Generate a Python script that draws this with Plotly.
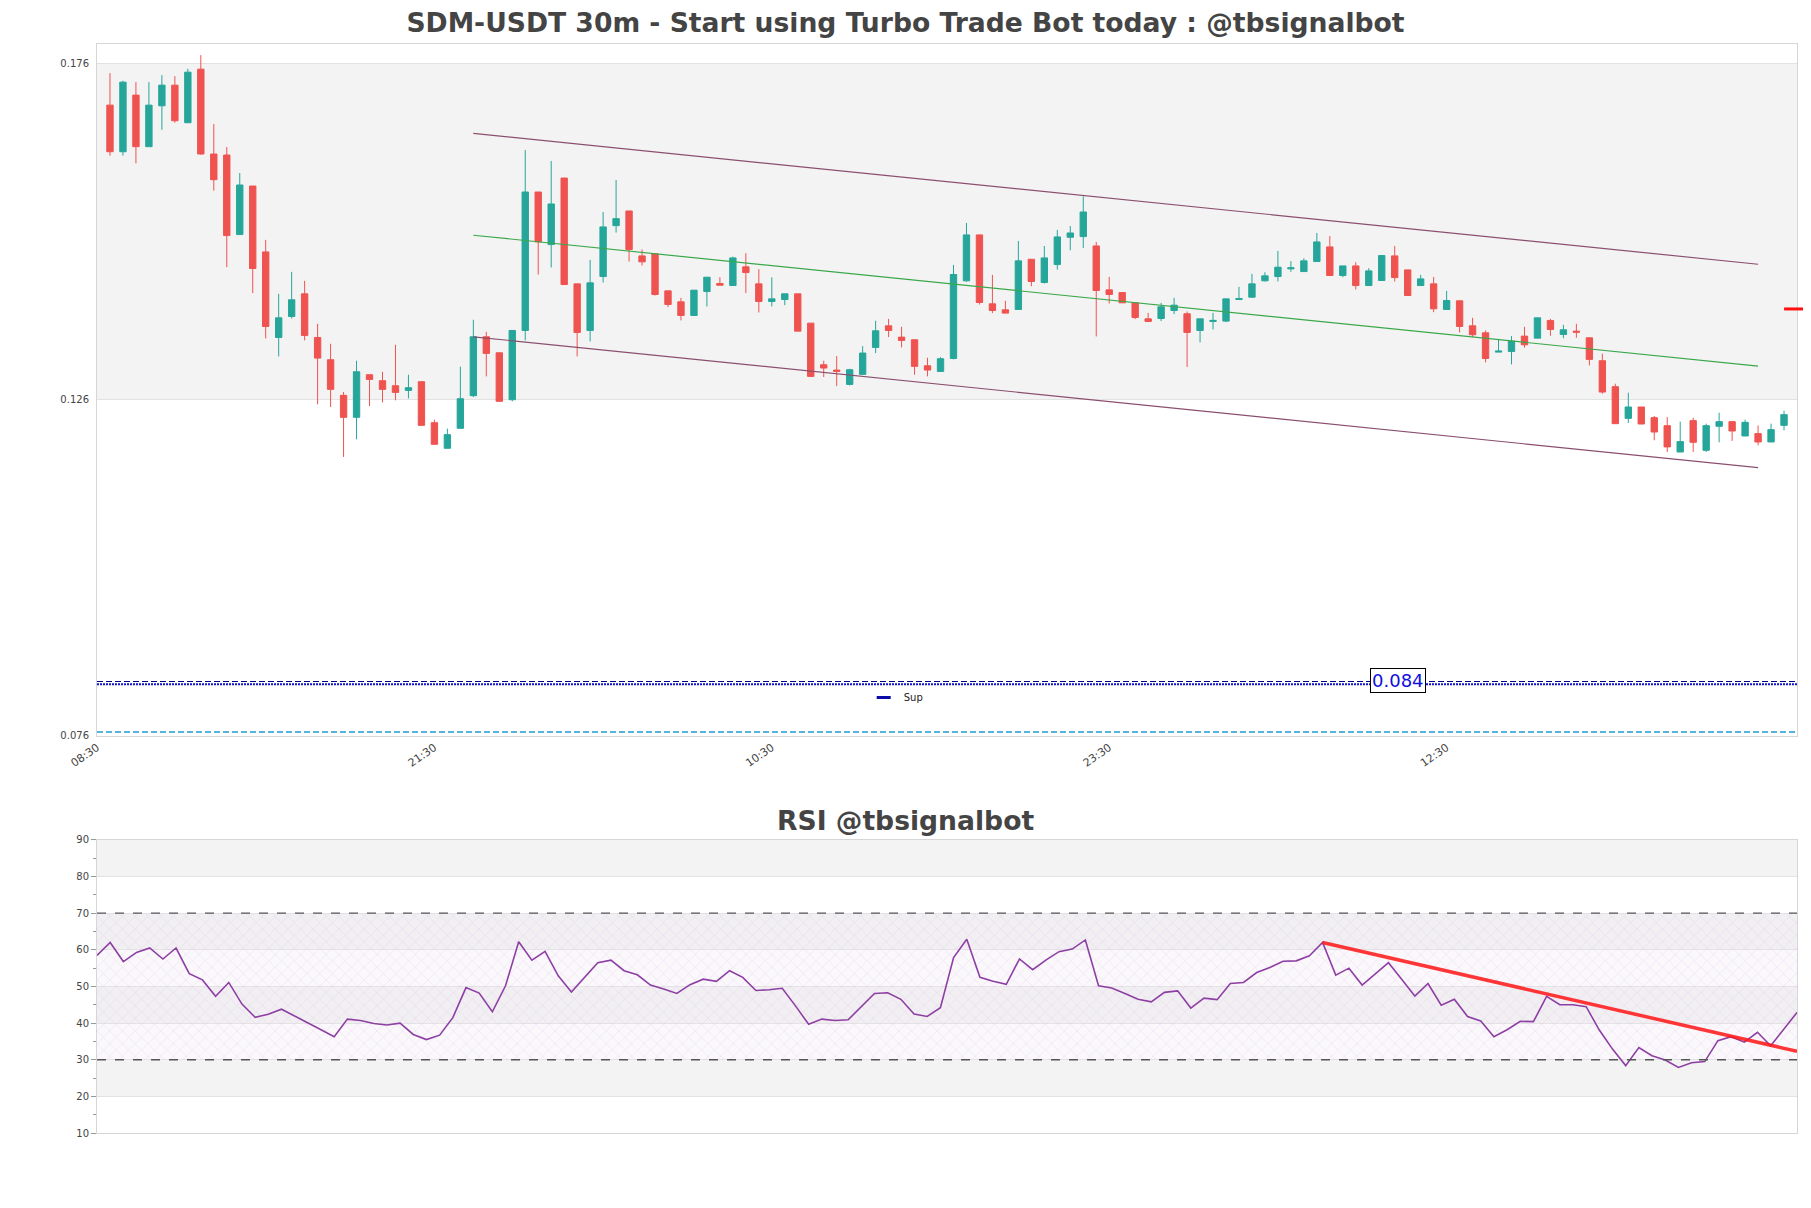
import pandas as pd
import plotly.graph_objects as go

# ---------------- data ----------------
start_time = "2024-05-10 09:00"

candle_open = [0.16981, 0.16288, 0.1713, 0.16363, 0.16971, 0.17278, 0.16719, 0.17516, 0.16254, 0.16239,
               0.15056, 0.15778, 0.14798, 0.13526, 0.13838, 0.14175, 0.13526, 0.13195, 0.12665, 0.12338,
               0.12972, 0.12883, 0.12808, 0.12739, 0.12868, 0.12259, 0.11878, 0.12175, 0.1266, 0.13536,
               0.13298, 0.126, 0.1363, 0.15689, 0.14907, 0.15897, 0.14323, 0.1363, 0.14432, 0.15189,
               0.15407, 0.14739, 0.14769, 0.14219, 0.14056, 0.13853, 0.14209, 0.14328, 0.14298, 0.14576,
               0.14323, 0.14061, 0.1409, 0.14175, 0.13739, 0.1312, 0.13041, 0.12828, 0.12977, 0.13378,
               0.13699, 0.13531, 0.13492, 0.13105, 0.13021, 0.13214, 0.14368, 0.15051, 0.14026, 0.13937,
               0.13942, 0.14689, 0.14343, 0.1461, 0.15016, 0.15026, 0.14887, 0.14234, 0.14194, 0.14041,
               0.13803, 0.13808, 0.13927, 0.13878, 0.1363, 0.13764, 0.13769, 0.1409, 0.14125, 0.14368,
               0.14432, 0.14546, 0.14506, 0.14655, 0.14873, 0.14447, 0.1459, 0.14298, 0.14373, 0.14739,
               0.14531, 0.14298, 0.14323, 0.13942, 0.14071, 0.13699, 0.13595, 0.13308, 0.13318, 0.13546,
               0.13516, 0.13779, 0.13571, 0.1362, 0.13521, 0.1318, 0.12794, 0.12323, 0.12492, 0.12333,
               0.12214, 0.11823, 0.12289, 0.11848, 0.12205, 0.12274, 0.12061, 0.12096, 0.11972, 0.12219]
candle_high = [0.17456, 0.17343, 0.17323, 0.17323, 0.17427, 0.17412, 0.17521, 0.17724, 0.16699, 0.16358,
               0.15971, 0.15778, 0.14977, 0.14175, 0.14501, 0.14368, 0.13729, 0.13432, 0.12714, 0.1318,
               0.12972, 0.13016, 0.13417, 0.12972, 0.12868, 0.12304, 0.1217, 0.13091, 0.13789, 0.1361,
               0.13298, 0.1363, 0.16313, 0.15689, 0.1615, 0.15897, 0.14323, 0.1468, 0.15392, 0.15868,
               0.15407, 0.14833, 0.14769, 0.14219, 0.14115, 0.14229, 0.14422, 0.14422, 0.14729, 0.14779,
               0.14541, 0.14422, 0.14175, 0.14175, 0.13739, 0.1318, 0.13249, 0.13061, 0.13397, 0.13774,
               0.13803, 0.13685, 0.13492, 0.13224, 0.13234, 0.14605, 0.15229, 0.15051, 0.14457, 0.14071,
               0.14962, 0.14689, 0.14887, 0.15125, 0.15184, 0.15625, 0.14947, 0.14427, 0.14194, 0.14041,
               0.13892, 0.14041, 0.14115, 0.13912, 0.13803, 0.13892, 0.141, 0.14279, 0.14472, 0.14496,
               0.14813, 0.1466, 0.14704, 0.1508, 0.15036, 0.1459, 0.14645, 0.14556, 0.14754, 0.14887,
               0.14531, 0.14457, 0.14427, 0.14219, 0.14071, 0.13818, 0.1363, 0.13492, 0.13546, 0.13685,
               0.13818, 0.13803, 0.13714, 0.13729, 0.13521, 0.13284, 0.12838, 0.12704, 0.12492, 0.12358,
               0.12343, 0.12274, 0.12333, 0.12244, 0.12407, 0.12274, 0.12304, 0.12219, 0.12244, 0.12437]
candle_low = [0.16229, 0.16229, 0.16115, 0.16363, 0.16615, 0.16719, 0.16719, 0.16244, 0.15709, 0.14571,
              0.15056, 0.14185, 0.13511, 0.13244, 0.13808, 0.13482, 0.12531, 0.12492, 0.11749, 0.12011,
              0.12506, 0.12561, 0.12591, 0.1262, 0.12219, 0.11937, 0.11878, 0.12175, 0.1264, 0.12947,
              0.12576, 0.12576, 0.13482, 0.14462, 0.14566, 0.14313, 0.13244, 0.13467, 0.14343, 0.15085,
              0.14655, 0.14595, 0.1415, 0.13977, 0.13779, 0.13853, 0.13987, 0.14303, 0.14298, 0.14185,
              0.13897, 0.13987, 0.14006, 0.1362, 0.12937, 0.12937, 0.12803, 0.12813, 0.12977, 0.13294,
              0.13531, 0.13378, 0.12972, 0.12947, 0.13021, 0.132, 0.14353, 0.14016, 0.13888, 0.13888,
              0.13942, 0.14288, 0.14328, 0.14536, 0.14823, 0.14858, 0.13541, 0.14031, 0.14041, 0.13798,
              0.13754, 0.13769, 0.13873, 0.13086, 0.13452, 0.13645, 0.13754, 0.1409, 0.14115, 0.14358,
              0.14358, 0.14501, 0.14506, 0.14655, 0.14447, 0.14422, 0.14239, 0.14298, 0.14373, 0.14358,
              0.1415, 0.14298, 0.13902, 0.13942, 0.136, 0.13531, 0.13155, 0.13308, 0.13125, 0.13373,
              0.13516, 0.13551, 0.13516, 0.13521, 0.1311, 0.1269, 0.12244, 0.12254, 0.12239, 0.11997,
              0.11823, 0.11823, 0.11823, 0.11823, 0.11967, 0.11987, 0.12061, 0.11922, 0.11972, 0.12145]
candle_close = [0.16288, 0.17323, 0.16363, 0.16981, 0.17278, 0.16749, 0.17471, 0.16254, 0.15872, 0.15041,
                0.15793, 0.14551, 0.1369, 0.13818, 0.14086, 0.13556, 0.13219, 0.12754, 0.12338, 0.13016,
                0.12902, 0.12754, 0.12709, 0.12779, 0.12219, 0.11937, 0.12081, 0.12615, 0.13536, 0.13289,
                0.12576, 0.1363, 0.15689, 0.14947, 0.15511, 0.14313, 0.136, 0.14338, 0.1517, 0.15293,
                0.14833, 0.1465, 0.14165, 0.14016, 0.13853, 0.14229, 0.14422, 0.14303, 0.14709, 0.14491,
                0.14061, 0.141, 0.14175, 0.1362, 0.12947, 0.13071, 0.13021, 0.13046, 0.13294, 0.13625,
                0.1363, 0.13482, 0.13096, 0.13041, 0.13209, 0.14462, 0.15051, 0.14046, 0.13927, 0.13888,
                0.14665, 0.14358, 0.14709, 0.15021, 0.1508, 0.15392, 0.14224, 0.14165, 0.14041, 0.13823,
                0.13764, 0.13982, 0.14006, 0.136, 0.13803, 0.13779, 0.141, 0.14105, 0.14323, 0.14442,
                0.14571, 0.14561, 0.14665, 0.14947, 0.14447, 0.1459, 0.14298, 0.14516, 0.14744, 0.14417,
                0.1415, 0.14397, 0.13952, 0.14076, 0.1369, 0.13566, 0.13214, 0.13323, 0.13472, 0.13417,
                0.13818, 0.13645, 0.1364, 0.13605, 0.132, 0.12714, 0.12244, 0.12492, 0.12239, 0.1212,
                0.11898, 0.11977, 0.11967, 0.12214, 0.12274, 0.12135, 0.12264, 0.11972, 0.12155, 0.12378]

rsi_values = [58.5, 62.0, 56.8, 59.3, 60.5, 57.5, 60.5, 53.5, 51.8, 47.3,
              51.1, 45.2, 41.6, 42.4, 43.8, 42.0, 40.2, 38.2, 36.3, 41.1,
              40.7, 39.9, 39.5, 40.0, 36.9, 35.5, 36.7, 41.5, 49.7, 48.2,
              43.1, 50.2, 62.2, 57.2, 59.6, 52.9, 48.5, 52.6, 56.5, 57.2,
              54.3, 53.2, 50.4, 49.3, 48.1, 50.5, 52.0, 51.4, 54.3, 52.5,
              48.9, 49.1, 49.5, 44.7, 39.7, 41.1, 40.7, 40.9, 44.5, 48.1,
              48.3, 46.5, 42.5, 41.8, 44.2, 57.9, 62.9, 52.5, 51.4, 50.6,
              57.5, 54.6, 57.2, 59.5, 60.2, 62.7, 50.2, 49.6, 48.1, 46.5,
              45.8, 48.4, 48.8, 44.1, 46.8, 46.4, 50.8, 51.1, 53.8, 55.2,
              56.9, 57.0, 58.4, 62.0, 53.1, 55.0, 50.4, 53.5, 56.5, 52.0,
              47.4, 50.8, 44.9, 46.5, 41.8, 40.6, 36.3, 38.2, 40.5, 40.4,
              47.3, 45.0, 45.0, 44.5, 38.1, 32.9, 28.4, 33.3, 31.1, 29.9,
              27.9, 29.2, 29.5, 35.2, 36.3, 34.8, 37.5, 33.8, 38.4, 42.9]

x_tick_labels = ["08:30", "21:30", "10:30", "23:30", "12:30"]
x_tick_index = [-1, 25, 51, 77, 103]

channel_index = [28, 127]
channel_upper = [0.1656, 0.14615]
channel_mid = [0.15046, 0.1310]
channel_lower = [0.13536, 0.1159]

support_level = 0.0841
support_dotted_level = 0.0837
lower_level = 0.0766
support_label = "0.084"
last_marker_price = 0.1395

rsi_trend_index = [93, 129]
rsi_trend_values = [62.0, 32.3]

# ---------------- helpers ----------------
t0 = pd.Timestamp(start_time)
step = pd.Timedelta(minutes=30)
n = len(candle_open)
times = [t0 + step * i for i in range(n)]


def t(i):
    return t0 + step * i


FONT = "DejaVu Sans"
TXT = "#444444"
UP = "#26a69a"
DOWN = "#ef5350"

fig = go.Figure()

# main candles
fig.add_trace(go.Candlestick(
    x=times, open=candle_open, high=candle_high, low=candle_low, close=candle_close,
    increasing=dict(line=dict(color=UP, width=1), fillcolor=UP),
    decreasing=dict(line=dict(color=DOWN, width=1), fillcolor=DOWN),
    whiskerwidth=0, showlegend=False, xaxis="x", yaxis="y", hoverinfo="skip"))

# channel
for vals, col in [(channel_upper, "#8a4f6e"), (channel_lower, "#8a4f6e"), (channel_mid, "#3aa84a")]:
    fig.add_trace(go.Scatter(x=[t(i) for i in channel_index], y=vals, mode="lines",
                             line=dict(color=col, width=1.2), showlegend=False,
                             xaxis="x", yaxis="y", hoverinfo="skip"))

# horizontal levels
xr = [t(-1), t(n)]
fig.add_trace(go.Scatter(x=xr, y=[support_level] * 2, mode="lines",
                         line=dict(color="#00008b", width=1.2, dash="6px,3px"), showlegend=False,
                         xaxis="x", yaxis="y", hoverinfo="skip"))
fig.add_trace(go.Scatter(x=xr, y=[support_dotted_level] * 2, mode="lines", name="Sup",
                         legendgroup="sup",
                         line=dict(color="#1414c8", width=2, dash="2px,1px"), showlegend=False,
                         xaxis="x", yaxis="y", hoverinfo="skip"))
# legend entry for the support level (short solid swatch, as in the original)
fig.add_trace(go.Scatter(x=[None], y=[None], mode="markers", name="Sup", legendgroup="sup",
                         marker=dict(symbol="line-ew", size=10,
                                     line=dict(color="#0a0aa8", width=3)),
                         showlegend=True, xaxis="x", yaxis="y", hoverinfo="skip"))
fig.add_trace(go.Scatter(x=xr, y=[lower_level] * 2, mode="lines",
                         line=dict(color="#1f9ad6", width=1.5, dash="6px,3px"), showlegend=False,
                         xaxis="x", yaxis="y", hoverinfo="skip"))

# RSI hatch zone
fig.add_trace(go.Scatter(x=[times[0], times[-1], times[-1], times[0], times[0]],
                         y=[30, 30, 70, 70, 30], mode="lines", line=dict(width=0),
                         fill="toself", fillcolor="rgba(0,0,0,0)",
                         fillpattern=dict(shape="x", fgcolor="rgba(200,165,215,0.75)",
                                          bgcolor="rgba(240,228,245,0.25)", size=9, solidity=0.1),
                         showlegend=False, xaxis="x2", yaxis="y2", hoverinfo="skip"))

# RSI line
fig.add_trace(go.Scatter(x=times, y=rsi_values, mode="lines",
                         line=dict(color="#8e3fa3", width=1.6), showlegend=False,
                         xaxis="x2", yaxis="y2", hoverinfo="skip"))

# RSI trendline
fig.add_trace(go.Scatter(x=[t(i) for i in rsi_trend_index], y=rsi_trend_values, mode="lines",
                         line=dict(color="rgba(255,20,20,0.85)", width=3.5), showlegend=False,
                         xaxis="x2", yaxis="y2", hoverinfo="skip"))

shapes = []
# main band
shapes.append(dict(type="rect", xref="x domain", yref="y", x0=0, x1=1, y0=0.126, y1=0.176,
                   fillcolor="#f3f3f3", line=dict(width=0), layer="below"))
# rsi bands
for lo, hi in [(80, 90), (60, 70), (40, 50), (20, 30)]:
    shapes.append(dict(type="rect", xref="x2 domain", yref="y2", x0=0, x1=1, y0=lo, y1=hi,
                       fillcolor="#f3f3f3", line=dict(width=0), layer="below"))
for lv in (70, 30):
    shapes.append(dict(type="line", xref="x2 domain", yref="y2", x0=0, x1=1, y0=lv, y1=lv,
                       line=dict(color="#555555", width=1.3, dash="dash")))
# last price marker on the right edge
shapes.append(dict(type="line", xref="paper", yref="y", x0=0.9924, x1=1.006,
                   y0=last_marker_price, y1=last_marker_price,
                   line=dict(color="#ff1010", width=3)))

annotations = [
    dict(text="RSI @tbsignalbot", xref="paper", yref="paper", x=0.4756, y=0.2874,
         showarrow=False, xanchor="center", yanchor="middle",
         font=dict(family=FONT, size=26.6, color=TXT, weight="bold")),
    dict(text=support_label, xref="paper", yref="y", x=0.765, y=0.0843, showarrow=False,
         xanchor="center", yanchor="middle", font=dict(family=FONT, size=18, color="#1010dd"),
         bgcolor="white", bordercolor="black", borderwidth=1, borderpad=1),
]

axis_common = dict(showline=True, mirror=True, linecolor="#d6d6d6", linewidth=1, zeroline=False,
                   tickfont=dict(family=FONT, size=10, color=TXT))
xaxis_common = dict(axis_common)
xaxis_common["tickfont"] = dict(family=FONT, size=11, color=TXT)

# page body has an 8px margin, so the figure is 16px smaller than the window
W, H = 1795, 1192
fig.update_layout(
    width=W, height=H,
    margin=dict(l=89, r=6, t=36, b=67),
    paper_bgcolor="white", plot_bgcolor="white",
    font=dict(family=FONT, color=TXT),
    title=dict(text="SDM-USDT 30m - Start using Turbo Trade Bot today : @tbsignalbot",
               x=0.5, xref="container", xanchor="center",
               y=1 - 15 / H, yref="container", yanchor="middle",
               font=dict(family=FONT, size=26.6, color=TXT, weight="bold")),
    xaxis=dict(domain=[0, 1], anchor="y", range=[t(-1), t(n)],
               tickvals=[t(i) for i in x_tick_index], ticktext=x_tick_labels, tickangle=-35,
               showgrid=False, rangeslider=dict(visible=False), **xaxis_common),
    yaxis=dict(domain=[0.3646, 1], anchor="x", range=[0.076, 0.1789],
               tickvals=[0.076, 0.126, 0.176], tickformat=".3f", ticklabelstandoff=5,
               showgrid=True, gridcolor="#e2e2e2", **axis_common),
    xaxis2=dict(domain=[0, 1], anchor="y2", range=[times[0], times[-1]],
                showticklabels=False, showgrid=False, **axis_common),
    yaxis2=dict(domain=[0, 0.2691], anchor="x2", range=[10, 90], dtick=10,
                ticks="outside", ticklen=5, tickcolor="#999999",
                minor=dict(ticks="outside", ticklen=3, dtick=5, tickcolor="#999999", showgrid=False),
                showgrid=True, gridcolor="#e2e2e2", **axis_common),
    showlegend=True,
    legend=dict(x=0.451, y=0.400, xanchor="left", yanchor="middle",
                font=dict(family=FONT, size=10, color="#222222"),
                bgcolor="rgba(0,0,0,0)", itemwidth=30),
    shapes=shapes,
    annotations=annotations,
)

fig.write_html("out.html")
